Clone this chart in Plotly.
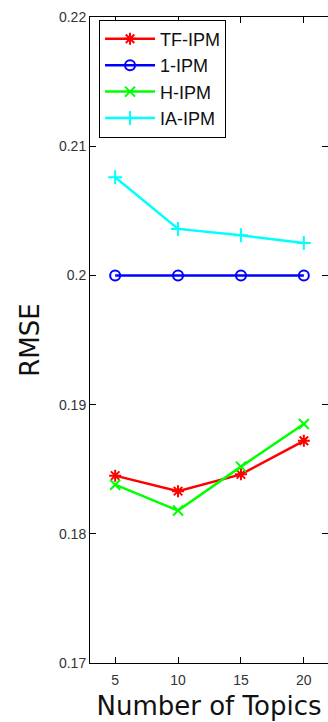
import plotly.graph_objects as go

topics = [5, 10, 15, 20]
tf_ipm = [0.1845, 0.1833, 0.1846, 0.1872]
one_ipm = [0.2000, 0.2000, 0.2000, 0.2000]
h_ipm = [0.1838, 0.1818, 0.1852, 0.1885]
ia_ipm = [0.2076, 0.2036, 0.2031, 0.2025]
y_ticks = [0.17, 0.18, 0.19, 0.20, 0.21, 0.22]
y_tick_labels = ["0.17", "0.18", "0.19", "0.2", "0.21", "0.22"]
x_ticks = [5, 10, 15, 20]

series = [
    ("TF-IPM", tf_ipm, "#FF0000", "asterisk-open"),
    ("1-IPM", one_ipm, "#0000FF", "circle-open"),
    ("H-IPM", h_ipm, "#00FF00", "x-thin-open"),
    ("IA-IPM", ia_ipm, "#00FFFF", "cross-thin-open"),
]

fig = go.Figure()
for name, vals, col, sym in series:
    fig.add_trace(go.Scatter(
        x=topics, y=vals, name=name, mode="lines+markers",
        line=dict(color=col, width=2.5),
        marker=dict(symbol=sym, size=10, color=col, line=dict(color=col, width=2)),
    ))

axis_common = dict(
    showgrid=False, zeroline=False, showline=True, linecolor="#000000", linewidth=1,
    mirror="ticks", ticks="inside", ticklen=6, tickcolor="#000000",
    tickfont=dict(family="Liberation Sans, Arial", size=14, color="#333333"),
)

fig.update_layout(
    width=328, height=722,
    margin=dict(l=90, r=0, t=17, b=59),
    paper_bgcolor="white", plot_bgcolor="white",
    xaxis=dict(range=[3, 21.92], tickvals=x_ticks, ticktext=[str(v) for v in x_ticks],
               ticklabelstandoff=4,
               title=dict(text="Number of Topics", standoff=10,
                          font=dict(family="DejaVu Sans", size=26, color="#111111")),
               **axis_common),
    yaxis=dict(range=[0.17, 0.22], tickvals=y_ticks, ticktext=y_tick_labels,
               title=dict(text="RMSE", standoff=11,
                          font=dict(family="DejaVu Sans", size=26, color="#111111")),
               **axis_common),
    legend=dict(x=0.038, y=0.996, xanchor="left", yanchor="top",
                bgcolor="white", bordercolor="#000000", borderwidth=1,
                font=dict(family="Liberation Sans, Arial", size=18, color="#111111"),
                itemwidth=50, tracegroupgap=0),
    showlegend=True,
)

fig.write_html("out.html")
